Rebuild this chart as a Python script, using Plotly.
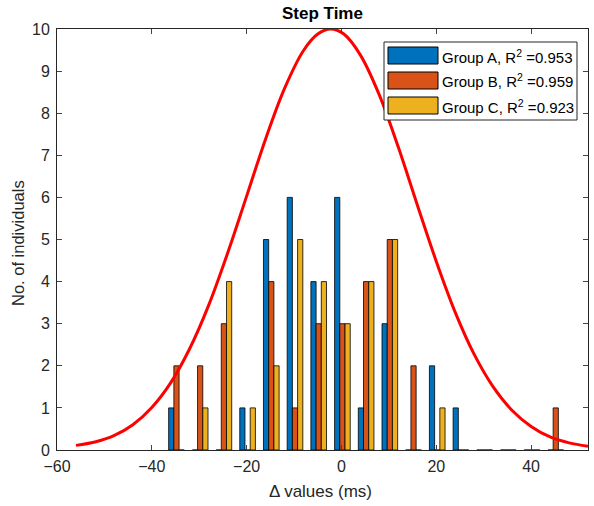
import plotly.graph_objects as go

# ---- data ----
bin_centers = [-34.8, -29.8, -24.8, -19.8, -14.8, -9.8, -4.8, 0.2, 5.2, 10.2,
               15.2, 20.2, 25.2, 30.2, 35.2, 40.2, 45.2]
group_a = [1, 0, 0, 1, 5, 6, 4, 6, 1, 3, 0, 2, 1, 0, 0, 0, 0]
group_b = [2, 2, 3, 0, 4, 1, 3, 3, 4, 5, 2, 0, 0, 0, 0, 0, 1]
group_c = [0, 1, 4, 1, 2, 5, 4, 3, 4, 5, 0, 1, 0, 0, 0, 0, 0]
series_names = ["Group A, R<sup>2</sup> =0.953",
                "Group B, R<sup>2</sup> =0.959",
                "Group C, R<sup>2</sup> =0.923"]
colors = ["#0072BD", "#D95319", "#EDB120"]

# fitted curve, points
curve_x = [-56, -52, -48, -44, -40, -36, -32, -28, -24, -20, -16, -12, -8, -5,
           -2.3, 0.5, 4, 8, 12, 16, 20, 24, 28, 32, 36, 40, 44, 48, 52]
curve_y = [0.11, 0.19, 0.34, 0.60, 1.01, 1.60, 2.41, 3.44, 4.68, 6.03, 7.39,
           8.59, 9.49, 9.88, 10.0, 9.88, 9.38, 8.43, 7.19, 5.82, 4.48, 3.27,
           2.27, 1.50, 0.94, 0.56, 0.31, 0.17, 0.09]

x_ticks = [-60, -40, -20, 0, 20, 40]
y_ticks = list(range(0, 11))

# ---- figure ----
W, H = 594, 506
ML, MR, MT, MB = 57, 6, 29, 56
PW, PH = W - ML - MR, H - MT - MB

fig = go.Figure()
bar_w = 1.1
offsets = [-1.5 * bar_w, -0.5 * bar_w, 0.5 * bar_w]
for vals, name, col, off in zip([group_a, group_b, group_c], series_names, colors, offsets):
    fig.add_trace(go.Bar(x=bin_centers, y=vals, name=name, width=bar_w, offset=off,
                         marker=dict(color=col, line=dict(color="black", width=0.8)),
                         showlegend=False))

fig.add_trace(go.Scatter(x=curve_x, y=curve_y, mode="lines",
                         line=dict(color="#FF0000", width=3, shape="spline", smoothing=1.0),
                         showlegend=False, cliponaxis=True))

axcol = "#262626"
fig.update_layout(
    width=W, height=H,
    margin=dict(l=ML, r=MR, t=MT, b=MB),
    paper_bgcolor="white", plot_bgcolor="white",
    barmode="overlay",
    font=dict(family="Liberation Sans, Arial, sans-serif", size=16, color=axcol),
    xaxis=dict(range=[-60, 52], tickvals=x_ticks, ticks="inside", ticklen=5,
               showline=True, linecolor=axcol, linewidth=1, mirror="ticks",
               showgrid=False, zeroline=False, ticklabelstandoff=2),
    yaxis=dict(range=[0, 10], tickvals=y_ticks, ticks="inside", ticklen=5,
               showline=True, linecolor=axcol, linewidth=1, mirror="ticks",
               showgrid=False, zeroline=False, ticklabelstandoff=3),
)

def px(x):
    return (x - ML) / PW

def py(y):
    return (H - MB - y) / PH

annotations = [
    dict(xref="paper", yref="paper", x=px(ML + PW / 2), y=py(13), text="<b>Step Time</b>",
         showarrow=False, xanchor="center", yanchor="middle",
         font=dict(size=17, color="black")),
    dict(xref="paper", yref="paper", x=px(ML + PW / 2 - 2), y=py(492), text="Δ values (ms)",
         showarrow=False, xanchor="center", yanchor="middle",
         font=dict(size=17, color=axcol)),
    dict(xref="paper", yref="paper", x=px(18), y=py(243), text="No. of individuals",
         showarrow=False, xanchor="center", yanchor="middle", textangle=-90,
         font=dict(size=16.5, color=axcol)),
]

# custom MATLAB-style legend
shapes = [dict(type="rect", xref="paper", yref="paper",
               x0=px(384), x1=px(577), y0=py(120), y1=py(42),
               line=dict(color=axcol, width=1), fillcolor="white", layer="above")]
row_tops = [47, 72, 97]
for top, name, col in zip(row_tops, series_names, colors):
    shapes.append(dict(type="rect", xref="paper", yref="paper",
                       x0=px(388), x1=px(438), y0=py(top + 17), y1=py(top),
                       line=dict(color="black", width=1), fillcolor=col, layer="above"))
    annotations.append(dict(xref="paper", yref="paper", x=px(440), y=py(top + 9),
                            xanchor="left", yanchor="middle", text=name, showarrow=False,
                            font=dict(size=15, color="black")))
fig.update_layout(shapes=shapes, annotations=annotations)

fig.write_html("out.html")
